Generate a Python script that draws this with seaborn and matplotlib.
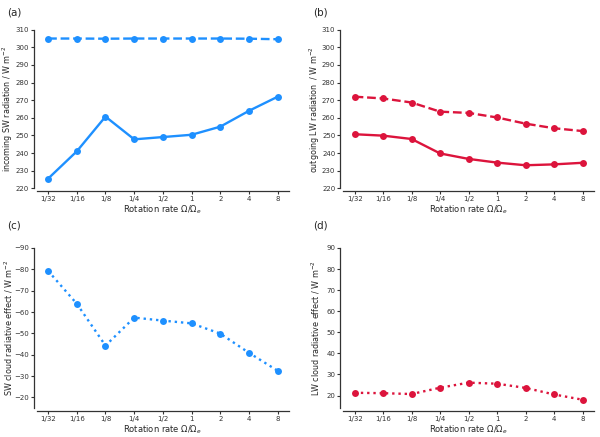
import numpy as np
import pandas as pd
import seaborn as sns
import matplotlib.pyplot as plt

# rotation rates (x categories)
rates = ['1/32', '1/16', '1/8', '1/4', '1/2', '1', '2', '4', '8']

# (a) incoming SW: clear sky (dashed) and all sky (solid)
sw_clear = [305.0, 305.0, 304.9, 305.0, 305.0, 305.0, 305.0, 304.9, 304.6]
sw_all = [225.5, 241.0, 260.7, 247.8, 249.1, 250.4, 255.0, 264.0, 272.0]

# (b) outgoing LW: clear sky (dashed) and all sky (solid)
lw_clear = [272.0, 271.0, 268.7, 263.5, 262.8, 260.2, 256.7, 254.1, 252.5]
lw_all = [250.7, 249.9, 248.0, 239.8, 236.7, 234.6, 233.1, 233.6, 234.5]

# (c), (d) cloud radiative effects
sw_cre = [-79.3, -63.9, -44.3, -57.4, -56.0, -54.7, -49.9, -40.9, -32.5]
lw_cre = [21.3, 21.1, 20.7, 23.7, 26.1, 25.6, 23.6, 20.5, 18.0]

blue = '#1E90FF'
red = '#DC143C'

sns.set_style('ticks')
plt.rcParams['font.family'] = ['DejaVu Sans']
plt.rcParams['axes.edgecolor'] = '#333333'
plt.rcParams['xtick.color'] = '#333333'
plt.rcParams['ytick.color'] = '#333333'

df = pd.DataFrame({'x': np.arange(len(rates)), 'sw_clear': sw_clear, 'sw_all': sw_all,
                   'lw_clear': lw_clear, 'lw_all': lw_all, 'sw_cre': sw_cre, 'lw_cre': lw_cre})

fig = plt.figure(figsize=(6.0, 4.37), dpi=100)
ax_a = fig.add_axes([0.061, 0.569, 0.421, 0.363])
ax_b = fig.add_axes([0.572, 0.569, 0.418, 0.363])
ax_c = fig.add_axes([0.061, 0.066, 0.421, 0.3665])
ax_d = fig.add_axes([0.572, 0.066, 0.418, 0.3665])

kw = dict(marker='o', markersize=5, markeredgewidth=0, linewidth=1.7)

sns.lineplot(data=df, x='x', y='sw_clear', ax=ax_a, color=blue, linestyle='--', **kw)
sns.lineplot(data=df, x='x', y='sw_all', ax=ax_a, color=blue, linestyle='-', **kw)
sns.lineplot(data=df, x='x', y='lw_clear', ax=ax_b, color=red, linestyle='--', **kw)
sns.lineplot(data=df, x='x', y='lw_all', ax=ax_b, color=red, linestyle='-', **kw)
sns.lineplot(data=df, x='x', y='sw_cre', ax=ax_c, color=blue, linestyle=':', **kw)
sns.lineplot(data=df, x='x', y='lw_cre', ax=ax_d, color=red, linestyle=':', **kw)

ax_a.set_ylim(220, 310)
ax_b.set_ylim(220, 310)
ax_c.set_ylim(-15, -90)
ax_d.set_ylim(14, 90)
ax_a.set_yticks(np.arange(220, 311, 10))
ax_b.set_yticks(np.arange(220, 311, 10))
ax_c.set_yticks(np.arange(-90, -19, 10))
ax_d.set_yticks(np.arange(20, 91, 10))

ax_a.set_ylabel('incoming SW radiation / W m$^{-2}$')
ax_b.set_ylabel('outgoing LW radiation  / W m$^{-2}$')
ax_c.set_ylabel('SW cloud radiative effect / W m$^{-2}$')
ax_d.set_ylabel('LW cloud radiative effect / W m$^{-2}$')

for ax in [ax_a, ax_b, ax_c, ax_d]:
    ax.set_xticks(df['x'])
    ax.set_xticklabels(rates)
    ax.set_xlabel(r'Rotation rate $\Omega/\Omega_e$', fontsize=6, labelpad=1)
    ax.yaxis.label.set_fontsize(5.8)
    ax.tick_params(labelsize=5, length=2.5, width=0.8, pad=1.2)
    for s in ax.spines.values():
        s.set_linewidth(0.9)
    sns.despine(ax=ax, offset=2)
    ax.yaxis.set_label_coords(-0.085, 0.5)

fig.text(0.012, 0.972, '(a)', fontsize=7.5, va='center')
fig.text(0.522, 0.972, '(b)', fontsize=7.5, va='center')
fig.text(0.012, 0.483, '(c)', fontsize=7.5, va='center')
fig.text(0.522, 0.483, '(d)', fontsize=7.5, va='center')

fig.savefig('out.png', dpi=100)
